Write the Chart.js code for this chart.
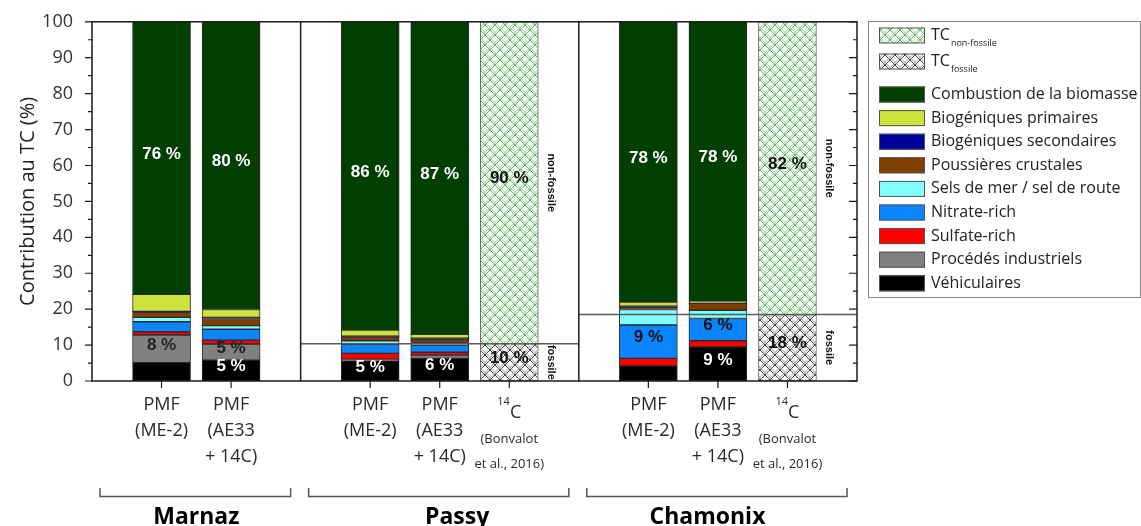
<!DOCTYPE html>
<html lang="fr">
<head>
<meta charset="utf-8">
<title>Contribution au TC</title>
<script src="https://cdn.jsdelivr.net/npm/chart.js@4/dist/chart.umd.min.js"></script>
<style>
  html, body { margin: 0; padding: 0; background: #fff; }
  #wrap { width: 1141px; height: 526px; }
</style>
</head>
<body>
<div id="wrap"><canvas id="chart" width="1141" height="526"></canvas></div>
<script>
// ── Données (une case par emplacement de l'axe X, null = vide) ──
const slotKinds = [null, 'me2', 'ae33', null, 'me2', 'ae33', 'c14', null, 'me2', 'ae33', 'c14', null];
const sites = ['Marnaz', 'Passy', 'Chamonix'];
const siteSlots = [[0, 3], [3, 7], [7, 11]];

const vehiculaires = [null, 5.1, 5.8, null, 5.6, 6.3, null, null, 4.2, 9.5, null, null];
const procedes     = [null, 7.7, 4.5, null, 0.4, 0.9, null, null, 0,   0,   null, null];
const sulfate      = [null, 0.9, 1.1, null, 1.7, 0.8, null, null, 2.1, 1.7, null, null];
const nitrate      = [null, 2.8, 3.0, null, 2.5, 2.0, null, null, 9.3, 6.2, null, null];
const selsMer      = [null, 1.2, 1.0, null, 1.0, 0.5, null, null, 4.3, 2.3, null, null];
const poussieres   = [null, 1.5, 2.0, null, 1.1, 1.0, null, null, 0.6, 1.9, null, null];
const biogSec      = [null, 0.2, 0.3, null, 0.2, 0.4, null, null, 0.3, 0.1, null, null];
const biogPrim     = [null, 4.7, 2.2, null, 1.7, 1.1, null, null, 1.2, 0.5, null, null];
const combustion   = [null, 75.9, 80.1, null, 85.8, 87.0, null, null, 78.0, 77.8, null, null];
const tcFossile    = [null, null, null, null, null, null, 10.4, null, null, null, 18.5, null];
const tcNonFossile = [null, null, null, null, null, null, 89.6, null, null, null, 81.5, null];

const yTicks = [0, 10, 20, 30, 40, 50, 60, 70, 80, 90, 100];

// étiquettes % : [série, emplacement, texte, couleur]
const pctLabels = [
  ['Combustion de la biomasse', 1, '76 %', '#fff'],
  ['Combustion de la biomasse', 2, '80 %', '#fff'],
  ['Combustion de la biomasse', 4, '86 %', '#fff'],
  ['Combustion de la biomasse', 5, '87 %', '#fff'],
  ['Combustion de la biomasse', 8, '78 %', '#fff'],
  ['Combustion de la biomasse', 9, '78 %', '#fff'],
  ['non-fossile', 6, '90 %', '#111'],
  ['non-fossile', 10, '82 %', '#111'],
  ['Procédés industriels', 1, '8 %', '#222'],
  ['Procédés industriels', 2, '5 %', '#222'],
  ['Véhiculaires', 2, '5 %', '#fff'],
  ['Véhiculaires', 4, '5 %', '#fff'],
  ['Véhiculaires', 5, '6 %', '#fff'],
  ['fossile', 6, '10 %', '#111'],
  ['Nitrate-rich', 8, '9 %', '#111'],
  ['Nitrate-rich', 9, '6 %', '#111'],
  ['Véhiculaires', 9, '9 %', '#fff'],
  ['fossile', 10, '18 %', '#111']
];

// ── Hachures ────────────────────────────────────────────────────
function hachure(c1, c2) {
  const s = 10;
  const cv = document.createElement('canvas');
  cv.width = cv.height = s;
  const g = cv.getContext('2d');
  g.fillStyle = '#fff';
  g.fillRect(0, 0, s, s);
  [[0, c1], [2.5, c2]].forEach(([d, col]) => {
    g.strokeStyle = col;
    g.lineWidth = 1;
    [-s, 0, s].forEach(k => {
      g.beginPath(); g.moveTo(k + d, 0); g.lineTo(k + d + s, s); g.stroke();
      g.beginPath(); g.moveTo(k - d + s, 0); g.lineTo(k - d, s); g.stroke();
    });
  });
  return g.createPattern(cv, 'repeat');
}
const hachVert = hachure('#58b558', '#98d098');
const hachGris = hachure('#444', '#999');

function serie(label, data, color, extra) {
  return Object.assign({
    label, data, backgroundColor: color, borderColor: '#2b2b2b',
    borderWidth: 1, borderSkipped: false, stack: 's'
  }, extra || {});
}

const datasets = [
  serie('Véhiculaires', vehiculaires, '#000000'),
  serie('Procédés industriels', procedes, '#808080'),
  serie('Sulfate-rich', sulfate, '#ff0000'),
  serie('Nitrate-rich', nitrate, '#0a84ff'),
  serie('Sels de mer / sel de route', selsMer, '#80ffff'),
  serie('Poussières crustales', poussieres, '#7f3f00'),
  serie('Biogéniques secondaires', biogSec, '#00009a'),
  serie('Biogéniques primaires', biogPrim, '#cde23c'),
  serie('Combustion de la biomasse', combustion, '#003f00'),
  serie('fossile', tcFossile, hachGris, { borderColor: '#666', legendText: 'TC', sub: 'fossile' }),
  serie('non-fossile', tcNonFossile, hachVert, { borderColor: '#666', legendText: 'TC', sub: 'non-fossile' })
];

// ── Décor : cadre, graduations, libellés, légende ───────────────
const siteLabelAt = [1.5, 5.25, 8.85];

const decor = {
  id: 'decor',
  afterDatasetsDraw(chart) {
    const { ctx, chartArea: ca, scales: { x, y } } = chart;
    const byLabel = l => chart.data.datasets.findIndex(d => d.label === l);
    ctx.save();

    // lignes fossile / non-fossile
    ctx.strokeStyle = '#5a5a5a';
    ctx.lineWidth = 1.5;
    siteSlots.forEach(([a, b]) => {
      for (let i = a; i <= b; i++) {
        if (tcFossile[i] != null) {
          const yy = y.getPixelForValue(tcFossile[i]);
          ctx.beginPath(); ctx.moveTo(x.getPixelForValue(a), yy); ctx.lineTo(x.getPixelForValue(b), yy); ctx.stroke();
        }
      }
    });

    // cadre + séparateurs
    ctx.strokeStyle = '#1a1a1a';
    ctx.lineWidth = 1.5;
    ctx.strokeRect(ca.left, ca.top, ca.right - ca.left, ca.bottom - ca.top);
    siteSlots.slice(1).forEach(([a]) => {
      const xx = x.getPixelForValue(a);
      ctx.beginPath(); ctx.moveTo(xx, ca.top); ctx.lineTo(xx, ca.bottom); ctx.stroke();
    });

    // graduations
    ctx.lineWidth = 1.2;
    for (let v = 0; v <= 100; v += 5) {
      const yy = y.getPixelForValue(v);
      const major = v % 10 === 0;
      ctx.beginPath();
      ctx.moveTo(ca.left - (major ? 7 : 4), yy); ctx.lineTo(ca.left, yy);
      ctx.moveTo(ca.right - (major ? 8 : 4), yy); ctx.lineTo(ca.right, yy);
      ctx.stroke();
    }
    slotKinds.forEach((k, i) => {
      if (!k) return;
      const xx = x.getPixelForValue(i);
      ctx.beginPath(); ctx.moveTo(xx, ca.bottom); ctx.lineTo(xx, ca.bottom + 7); ctx.stroke();
    });

    // étiquettes %
    ctx.font = 'bold 17px "Liberation Sans", Arial, sans-serif';
    ctx.textAlign = 'center';
    ctx.textBaseline = 'middle';
    pctLabels.forEach(([ser, slot, txt, col]) => {
      const el = chart.getDatasetMeta(byLabel(ser)).data[slot];
      if (!el) return;
      ctx.fillStyle = col;
      ctx.fillText(txt, el.x, (el.y + el.base) / 2 - 4);
    });

    // non-fossile / fossile verticaux
    ctx.font = 'bold 11px "Liberation Sans Narrow", "Liberation Sans", sans-serif';
    ctx.fillStyle = '#111';
    ['non-fossile', 'fossile'].forEach(ser => {
      const meta = chart.getDatasetMeta(byLabel(ser));
      slotKinds.forEach((k, i) => {
        if (k !== 'c14') return;
        const el = meta.data[i];
        ctx.save();
        ctx.translate(el.x + el.width / 2 + 13, (el.y + el.base) / 2);
        ctx.rotate(Math.PI / 2);
        ctx.fillText(ser, 0, 0);
        ctx.restore();
      });
    });
    ctx.restore();
  },

  afterDraw(chart) {
    const { ctx, chartArea: ca, scales: { x } } = chart;
    ctx.save();
    ctx.textAlign = 'center';
    ctx.textBaseline = 'middle';
    ctx.fillStyle = '#2a2a2a';

    // libellés de l'axe X
    slotKinds.forEach((k, i) => {
      if (!k) return;
      const cx = x.getPixelForValue(i);
      if (k === 'c14') {
        ctx.font = '11px "Open Sans", sans-serif';
        const w14 = ctx.measureText('14').width;
        ctx.font = '18px "Open Sans", sans-serif';
        const wC = ctx.measureText('C').width;
        const x0 = cx - (w14 + wC) / 2;
        ctx.textAlign = 'left';
        ctx.font = '11px "Open Sans", sans-serif';
        ctx.fillText('14', x0, 402);
        ctx.font = '18px "Open Sans", sans-serif';
        ctx.fillText('C', x0 + w14, 413);
        ctx.textAlign = 'center';
        ctx.font = '13px "Open Sans", sans-serif';
        ctx.fillText('(Bonvalot', cx, 439);
        ctx.fillText('et al., 2016)', cx, 464);
      } else {
        const lines = k === 'me2' ? ['PMF', '(ME-2)'] : ['PMF', '(AE33', '+ 14C)'];
        ctx.font = '18px "Open Sans", sans-serif';
        lines.forEach((t, j) => ctx.fillText(t, cx, 405 + j * 26));
      }
    });

    // accolades + sites
    ctx.strokeStyle = '#555';
    ctx.lineWidth = 1.5;
    siteSlots.forEach(([a, b], i) => {
      const x0 = x.getPixelForValue(a) + 8, x1 = x.getPixelForValue(b) - 10;
      ctx.beginPath();
      ctx.moveTo(x0, 488); ctx.lineTo(x0, 496.5); ctx.lineTo(x1, 496.5); ctx.lineTo(x1, 488);
      ctx.stroke();
      ctx.fillStyle = '#000';
      ctx.font = 'bold 23px "Open Sans", sans-serif';
      ctx.textBaseline = 'alphabetic';
      ctx.fillText(sites[i], x.getPixelForValue(siteLabelAt[i]), 524);
      ctx.textBaseline = 'middle';
    });

    // titre Y
    ctx.save();
    ctx.translate(28, (ca.top + ca.bottom) / 2);
    ctx.rotate(-Math.PI / 2);
    ctx.fillStyle = '#222';
    ctx.font = '20px "Open Sans", sans-serif';
    ctx.fillText('Contribution au TC (%)', 0, 0);
    ctx.restore();

    // légende
    ctx.strokeStyle = '#8a8a8a';
    ctx.lineWidth = 1;
    ctx.strokeRect(868.5, 21.5, 272, 276);
    const items = chart.data.datasets.slice().reverse();
    items.forEach((d, k) => {
      const yc = k < 2 ? 35.5 + k * 26 : 94.5 + (k - 2) * 23.6;
      ctx.fillStyle = d.backgroundColor;
      ctx.fillRect(879, yc - 8, 46, 16);
      ctx.strokeStyle = '#555';
      ctx.strokeRect(879.5, yc - 7.5, 45, 15);
      ctx.fillStyle = '#222';
      ctx.textAlign = 'left';
      ctx.font = '16px "Open Sans", sans-serif';
      if (d.sub) {
        ctx.fillText(d.legendText, 931, yc);
        const w = ctx.measureText(d.legendText).width;
        ctx.font = '9px "Open Sans", sans-serif';
        ctx.fillText(d.sub, 931 + w + 1, yc + 8);
      } else {
        ctx.fillText(d.label, 931, yc);
      }
    });
    ctx.restore();
  }
};

new Chart(document.getElementById('chart'), {
  type: 'bar',
  data: { labels: slotKinds.map(k => k || ''), datasets },
  options: {
    responsive: false,
    animation: false,
    devicePixelRatio: 1,
    layout: { padding: { top: 21, right: 284, left: 0, bottom: 0 } },
    barThickness: 58,
    plugins: { legend: { display: false }, tooltip: { enabled: false } },
    scales: {
      x: {
        stacked: true,
        offset: false,
        grid: { display: false },
        border: { display: false },
        ticks: { display: false },
        afterFit: s => { s.height = 145; }
      },
      y: {
        stacked: true,
        min: 0,
        max: 100,
        grid: { display: false },
        border: { display: false },
        afterBuildTicks: s => { s.ticks = yTicks.map(v => ({ value: v })); },
        ticks: { color: '#333', padding: 11, font: { family: 'Open Sans', size: 18 } },
        afterFit: s => { s.width = 92; }
      }
    }
  },
  plugins: [decor]
});
</script>
</body>
</html>
